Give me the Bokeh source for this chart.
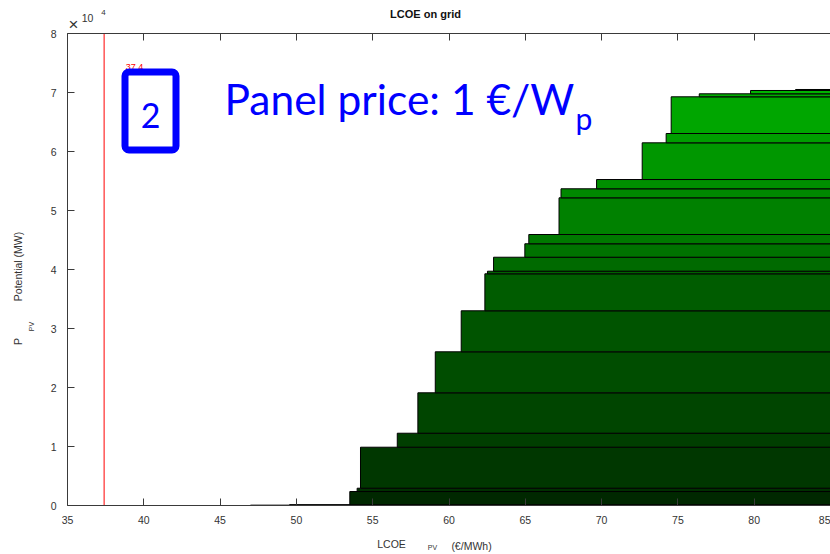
import numpy as np
from bokeh.plotting import figure
from bokeh.models import Range1d, FixedTicker, LinearAxis, Label, BoxAnnotation, ColumnDataSource
from bokeh.embed import file_html
from bokeh.resources import INLINE

# ---------------- data ----------------
lcoe = [46.99, 49.55, 53.50, 53.98, 54.20, 56.61, 57.96, 59.10, 60.80, 62.35, 62.52, 62.92,
        64.97, 65.23, 67.21, 67.34, 69.67, 72.66, 74.23, 74.56, 76.40, 79.76, 82.71]
potential = [60, 60, 2250, 560, 6950, 2370, 6850, 6950, 6950, 6270, 440, 2370,
             2280, 1570, 6220, 1530, 1570, 6220, 1580, 6220, 510, 560, 170]
lcoe_end = 95.0          # the supply curve continues off-screen to the right
grid_lcoe = 37.4
panel_price_label = "Panel price: 1 \u20ac/W"
scenario = "2"
x_ticks = [35, 40, 45, 50, 55, 60, 65, 70, 75, 80, 85]
y_ticks = [0, 10000, 20000, 30000, 40000, 50000, 60000, 70000, 80000]
y_tick_labels = ["0", "1", "2", "3", "4", "5", "6", "7", "8"]

cum_top = np.cumsum(potential)
cum_bottom = cum_top - np.array(potential)
greens = ["#00%02x00" % int(min(255, 18 + 7.4 * (i + 1))) for i in range(len(lcoe))]

src = ColumnDataSource(dict(left=lcoe, right=[lcoe_end] * len(lcoe),
                            bottom=cum_bottom, top=cum_top, color=greens))

# ---------------- layout (page pixels) ----------------
W, H = 830, 554
AX_L, AX_T, AX_B = 67.0, 33.0, 505.0      # axes box edges
PPU_X = 15.26                              # pixels per x unit
XMIN, YMIN, YMAX = x_ticks[0], y_ticks[0], y_ticks[-1]
ppu_y = (AX_B - AX_T) / (YMAX - YMIN)
X_START = XMIN - AX_L / PPU_X
X_END = XMIN + (W - AX_L) / PPU_X
Y_START = YMIN - (H - AX_B) / ppu_y
Y_END = YMAX + AX_T / ppu_y


def px(xp):  # page pixel -> data x
    return X_START + xp / W * (X_END - X_START)


def py(yp):  # page pixel -> data y
    return Y_END - yp / H * (Y_END - Y_START)


p = figure(width=W, height=H, x_range=Range1d(X_START, X_END), y_range=Range1d(Y_START, Y_END),
           output_backend="svg", toolbar_location=None,
           x_axis_location=None, y_axis_location=None,
           min_border_left=0, min_border_right=0, min_border_top=0, min_border_bottom=0)
p.outline_line_color = None
p.grid.visible = False
p.background_fill_color = "white"
p.border_fill_color = "white"

axc = "#3a3a3a"
txc = "#333333"

common = dict(major_tick_in=7, major_tick_out=0, minor_tick_line_color=None,
              axis_line_color=axc, major_tick_line_color=axc,
              major_label_text_font="Liberation Sans", major_label_text_font_size="10.5px",
              major_label_text_color=txc)

xa = LinearAxis(ticker=FixedTicker(ticks=x_ticks), fixed_location=YMIN, bounds=(XMIN, X_END),
                major_label_standoff=10, **common)
p.add_layout(xa, "below")

ya = LinearAxis(ticker=FixedTicker(ticks=y_ticks), fixed_location=XMIN, bounds=(YMIN, YMAX),
                major_label_standoff=11, **common)
ya.major_label_overrides = {t: s for t, s in zip(y_ticks, y_tick_labels)}
p.add_layout(ya, "left")

top_common = dict(common)
top_common["major_label_text_color"] = None
ta = LinearAxis(ticker=FixedTicker(ticks=x_ticks), fixed_location=YMAX, bounds=(XMIN, X_END),
                **top_common)
p.add_layout(ta, "above")

# ---------------- supply-curve bars ----------------
p.quad(left="left", right="right", bottom="bottom", top="top", source=src,
       fill_color="color", line_color="black", line_width=1)

# grid-price line
p.segment(x0=[grid_lcoe], y0=[YMIN], x1=[grid_lcoe], y1=[YMAX], line_color="red", line_width=1)


def lab(text, xp, yp, size, color=txc, font="Liberation Sans", align="center",
        baseline="middle", angle=0.0, style="normal"):
    p.add_layout(Label(x=px(xp), y=py(yp), text=text, text_font=font, text_font_size=size,
                       text_color=color, text_align=align, text_baseline=baseline,
                       angle=angle, text_font_style=style))


# title & axis labels
lab("LCOE on grid", 425, 13, "11px", color="#111111", style="bold")
lab("\u00d7", 73, 24, "17px")
lab("10", 87, 17, "10.5px")
lab("4", 103, 12, "8px")
lab("LCOE", 391, 543, "10.5px")
lab("PV", 432, 547, "7px")
lab("(\u20ac/MWh)", 471, 545, "10.5px")
lab("P", 17, 341, "10.5px", angle=np.pi / 2)
lab("PV", 31, 326, "7px", angle=np.pi / 2)
lab("Potential (MW)", 17, 266, "10.5px", angle=np.pi / 2)

# red value label (partly hidden by the box)
lab(f"{grid_lcoe}", 134, 66, "9px", color="red")

# scenario box
p.add_layout(BoxAnnotation(left=px(124.5), right=px(175.5), top=py(71.5), bottom=py(149.5),
                           line_color="#0000ff", line_alpha=1.0, line_width=7,
                           fill_color="white", fill_alpha=1.0, border_radius=4))
lab(scenario, 150, 115, "34px", color="#0000ff", font="Lato", baseline="alphabetic")

# panel price text
lab(panel_price_label, 224, 98, "42.5px", color="#0000ff", font="Lato", align="left",
    baseline="alphabetic")
lab("p", 575, 117, "30px", color="#0000ff", font="Lato", align="left", baseline="alphabetic")

open("out.html", "w").write(file_html(p, INLINE))
